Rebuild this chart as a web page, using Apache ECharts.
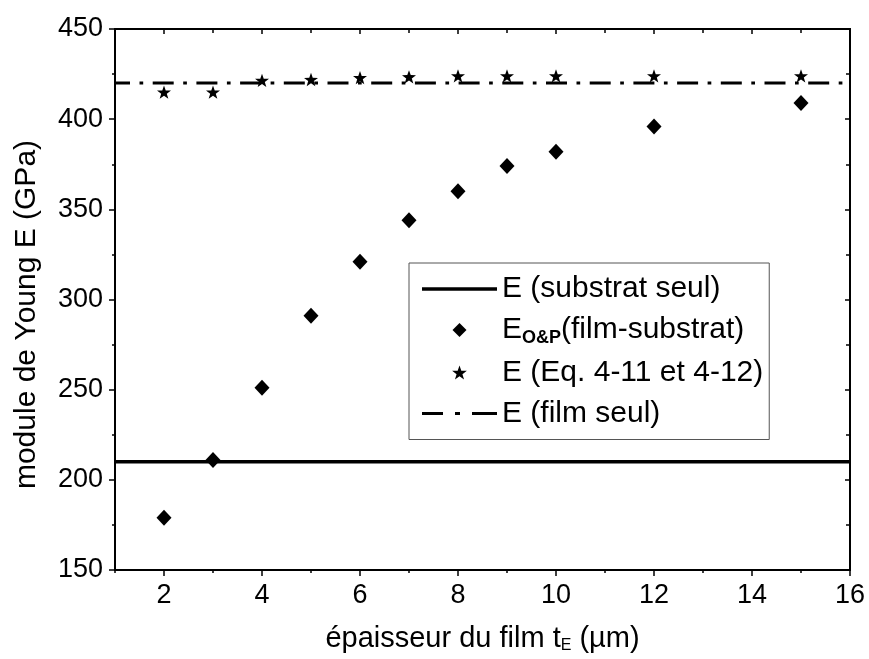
<!DOCTYPE html>
<html>
<head>
<meta charset="utf-8">
<script src="https://cdn.jsdelivr.net/npm/echarts@6/dist/echarts.min.js"></script>
<style>
  html, body { margin: 0; padding: 0; background: #fff; }
  #chart { width: 869px; height: 659px; }
</style>
</head>
<body>
<div id="chart"></div>
<script>
// ---- data ----
const thickness = [2, 3, 4, 5, 6, 7, 8, 9, 10, 12, 15];
const eOP = [179, 211, 251, 291, 321, 344, 360, 374, 382, 396, 409];
const eEq = [415, 415, 421.5, 422, 423, 423.5, 424, 424, 424, 424, 424];
const eSubstrat = 210;
const eFilm = 420;
const xRange = [1, 16];
const yRange = [150, 450];
const xMajorTicks = [2, 4, 6, 8, 10, 12, 14, 16];
const seriesNames = ['E (substrat seul)', 'E O&P (film-substrat)', 'E (Eq. 4-11 et 4-12)', 'E (film seul)'];
const legendLabels = {
  'E (substrat seul)': 'E (substrat seul)',
  'E O&P (film-substrat)': 'E{sub|O&P}(film-substrat)',
  'E (Eq. 4-11 et 4-12)': 'E (Eq. 4-11 et 4-12)',
  'E (film seul)': 'E (film seul)'
};
const xTitle = 'épaisseur du film t{sub|E} (µm)';
const yTitle = 'module de Young E (GPa)';

const FONT = "'Liberation Sans', Arial, sans-serif";
const starPath = 'path://M0,-10 L2.35,-3.24 L9.51,-3.09 L3.8,1.24 L5.88,8.09 L0,4 L-5.88,8.09 L-3.8,1.24 L-9.51,-3.09 L-2.35,-3.24 Z';
const legendIcons = [
  'path://M0,0h75v3.5h-75z',
  'path://M7.5,0L15,7.5L7.5,15L0,7.5Z',
  'path://M0,-10 L2.35,-3.24 L9.51,-3.09 L3.8,1.24 L5.88,8.09 L0,4 L-5.88,8.09 L-3.8,1.24 L-9.51,-3.09 L-2.35,-3.24 Z',
  'path://M0,0h21v3h-21z M33,0h5v3h-5z M50,0h25v3h-25z'
];

const chart = echarts.init(document.getElementById('chart'), null, { renderer: 'canvas' });

const axisLine = { show: true, lineStyle: { color: '#000', width: 2 } };
function xAx(pos, ticks, len, inside, extra) {
  return Object.assign({
    type: 'value', position: pos, min: xRange[0], max: xRange[1], interval: 1,
    axisLine: axisLine,
    axisTick: Object.assign({ show: true, length: len, inside: inside, lineStyle: { color: '#000', width: 1.5 } }, ticks ? { customValues: ticks } : {}),
    axisLabel: { show: false },
    splitLine: { show: false }
  }, extra || {});
}

const option = {
  backgroundColor: '#fff',
  animation: false,
  color: ['#000'],
  textStyle: { fontFamily: FONT, color: '#000' },
  grid: { left: 115, right: 19, top: 29, bottom: 85, containLabel: false },
  xAxis: [
    xAx('bottom', null, 3, false, {
      axisLabel: { show: true, customValues: xMajorTicks, fontSize: 27, color: '#000', margin: 12, fontFamily: FONT },
      name: xTitle, nameLocation: 'middle', nameGap: 53,
      nameTextStyle: { fontSize: 29, color: '#000', fontFamily: FONT,
        rich: { sub: { fontSize: 16, color: '#000', fontFamily: FONT, padding: [15, 0, 0, 0] } } }
    }),
    xAx('bottom', xMajorTicks, 6, false),
    xAx('top', null, 4, true),
    xAx('top', xMajorTicks, 5, true)
  ],
  yAxis: [
    {
      type: 'value', position: 'left', min: yRange[0], max: yRange[1], interval: 50,
      axisLine: axisLine,
      axisTick: { show: true, length: 6, inside: false, lineStyle: { color: '#000', width: 1.5 } },
      minorTick: { show: true, splitNumber: 2, length: 3, lineStyle: { color: '#000', width: 1.5 } },
      axisLabel: { fontSize: 27, color: '#000', margin: 12, fontFamily: FONT },
      splitLine: { show: false },
      name: yTitle, nameLocation: 'middle', nameGap: 73,
      nameTextStyle: { fontSize: 30, color: '#000', fontFamily: FONT, padding: [0, 30, 0, 0] }
    },
    {
      type: 'value', position: 'right', min: yRange[0], max: yRange[1], interval: 50,
      axisLine: axisLine,
      axisTick: { show: true, length: 5, inside: true, lineStyle: { color: '#000', width: 1.5 } },
      minorTick: { show: true, splitNumber: 2, length: 4, lineStyle: { color: '#000', width: 1.5 } },
      axisLabel: { show: false },
      splitLine: { show: false }
    }
  ],
  legend: {
    orient: 'vertical', left: 409, top: 263,
    padding: [10, 6, 10, 13],
    itemWidth: 75, itemHeight: 14, itemGap: 9,
    symbolKeepAspect: true,
    backgroundColor: '#fff', borderColor: '#555', borderWidth: 1,
    selectedMode: false,
    itemStyle: { color: '#000', opacity: 1 },
    data: seriesNames.map((n, i) => ({ name: n, icon: legendIcons[i] })),
    formatter: function (n) { return legendLabels[n]; },
    textStyle: { fontSize: 30, color: '#000', fontFamily: FONT, lineHeight: 32,
      rich: { sub: { fontSize: 18, fontWeight: 'bold', color: '#000', fontFamily: FONT, padding: [17, 0, 0, 0] } } }
  },
  series: [
    {
      name: seriesNames[0], type: 'line', xAxisIndex: 0, yAxisIndex: 0,
      data: [[xRange[0], eSubstrat], [xRange[1], eSubstrat]],
      symbol: 'none', itemStyle: { color: '#000' }, lineStyle: { color: '#000', width: 3.5, type: 'solid' }, z: 2
    },
    {
      name: seriesNames[1], type: 'scatter', xAxisIndex: 0, yAxisIndex: 0,
      data: thickness.map((t, i) => [t, eOP[i]]),
      symbol: 'diamond', symbolSize: [15, 16], itemStyle: { color: '#000', opacity: 1 }, z: 4
    },
    {
      name: seriesNames[2], type: 'scatter', xAxisIndex: 0, yAxisIndex: 0,
      data: thickness.map((t, i) => [t, eEq[i]]),
      symbol: starPath, symbolKeepAspect: true, symbolSize: 14, itemStyle: { color: '#000', opacity: 1 }, z: 4
    },
    {
      name: seriesNames[3], type: 'line', xAxisIndex: 0, yAxisIndex: 0,
      data: [[xRange[0], eFilm], [xRange[1], eFilm]],
      symbol: 'none', itemStyle: { color: '#000' }, lineStyle: { color: '#000', width: 3, type: [21, 9.5, 3.7, 9.5], dashOffset: 6 }, z: 3
    }
  ]
};
chart.setOption(option);
</script>
</body>
</html>
